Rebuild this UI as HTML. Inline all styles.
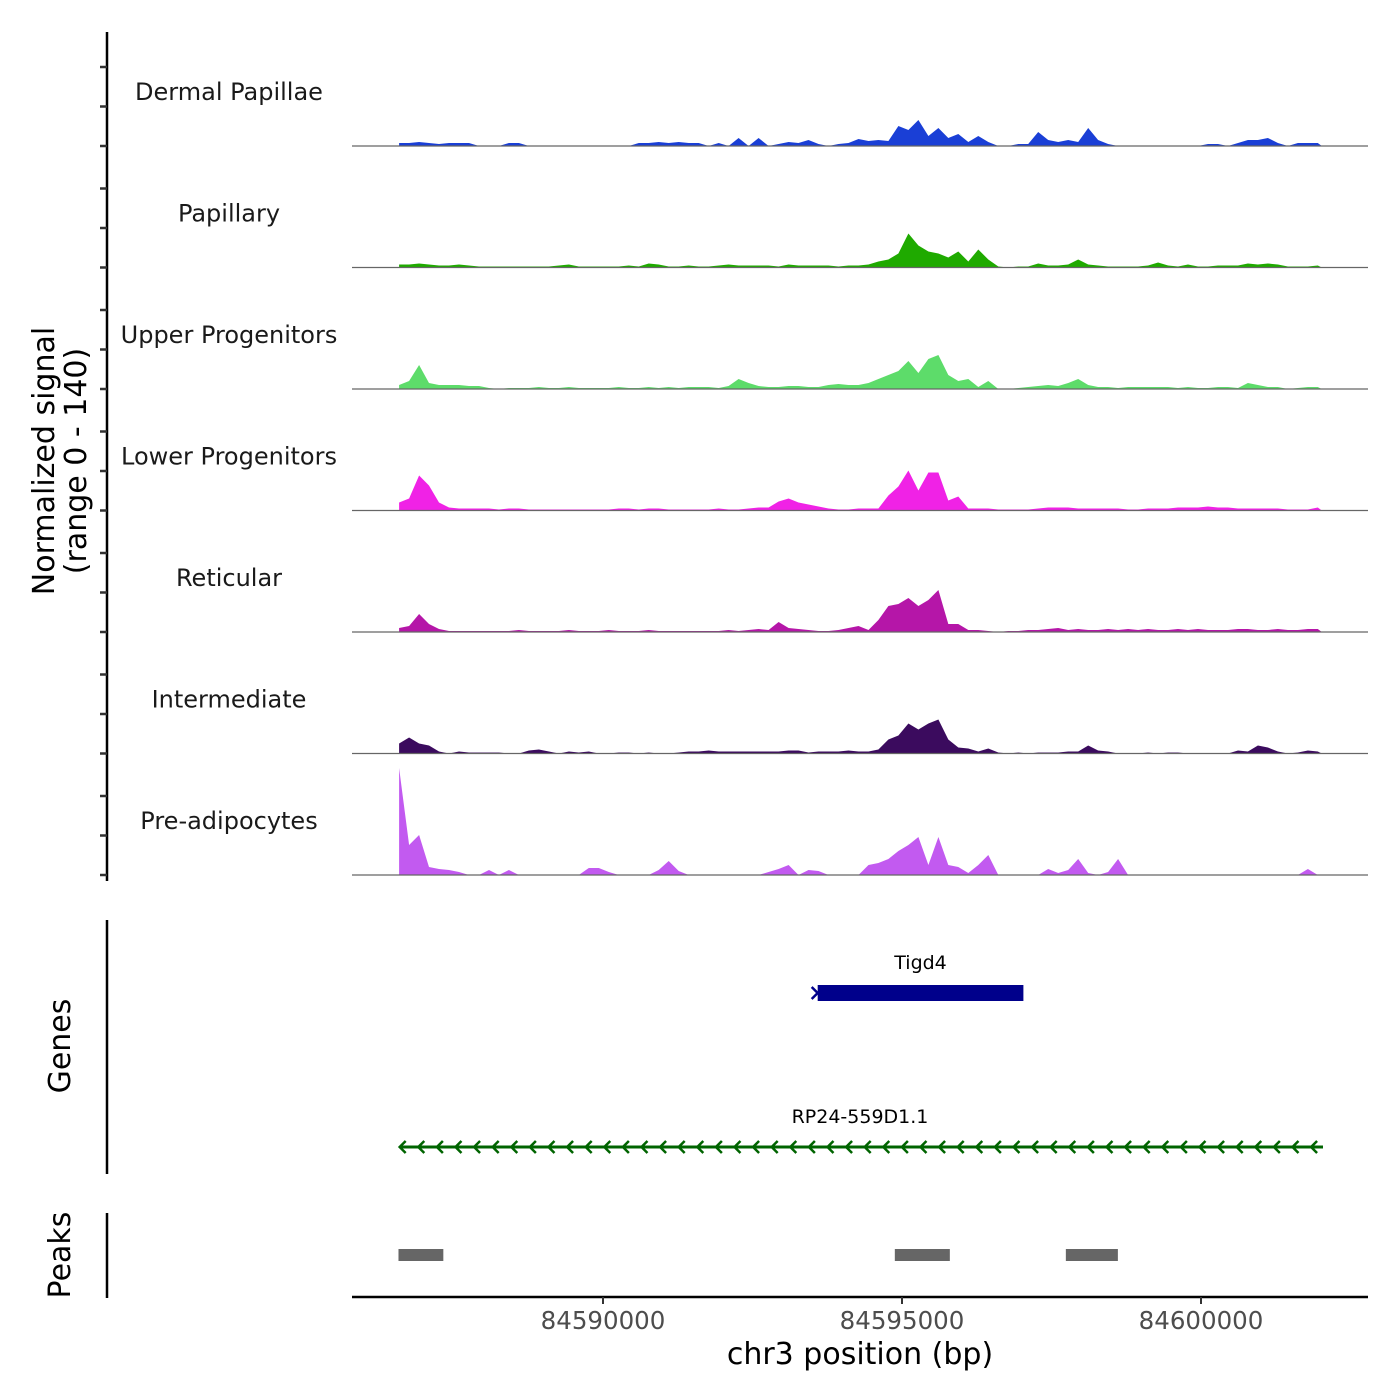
<!DOCTYPE html>
<html><head><meta charset="utf-8"><style>
body{margin:0;background:#fff}
svg{display:block;font-family:"DejaVu Sans","Liberation Sans",sans-serif}
</style></head><body>
<svg id="chart" width="1400" height="1400" viewBox="0 0 1400 1400">
<g id="tracks"></g>
<g id="axes">
 <line x1="107" y1="32" x2="107" y2="881" stroke="#000" stroke-width="2.5"/>
 <line x1="107" y1="920" x2="107" y2="1174" stroke="#000" stroke-width="2.5"/>
 <line x1="107" y1="1213" x2="107" y2="1298" stroke="#000" stroke-width="2.5"/>
 <line x1="352" y1="1297" x2="1368" y2="1297" stroke="#000" stroke-width="2.5"/>
 <text x="54" y="461" font-size="30" text-anchor="middle" transform="rotate(-90 54 461)">Normalized signal</text>
 <text x="86" y="461" font-size="30" text-anchor="middle" transform="rotate(-90 86 461)">(range 0 - 140)</text>
 <text x="70" y="1046" font-size="30" text-anchor="middle" transform="rotate(-90 70 1046)">Genes</text>
 <text x="70" y="1255" font-size="30" text-anchor="middle" transform="rotate(-90 70 1255)">Peaks</text>
 <text x="860" y="1364" font-size="30" text-anchor="middle">chr3 position (bp)</text>
</g>
<g id="genes"></g>
<g id="peaks"></g>
</svg>
<script>
const trackNames = ["Dermal Papillae","Papillary","Upper Progenitors","Lower Progenitors","Reticular","Intermediate","Pre-adipocytes"];
const trackColors = ["#1a3fd6","#1faa00","#5ddc6a","#f022e6","#b516a8","#3b0b5e","#c25af0"];
const binStart = 84586590;
const binSize = 167;
const dermalPapillae = [3,3,4,3,2,3,3,3,0,0, 0,3,3,0,0,0,0,0,0,0, 0,0,0,0,3,3,4,3,4,3, 3,0,3,0,8,0,8,0,2,4, 3,6,2,0,2,3,7,5,6,5, 20,16,26,10,18,8,12,4,10,4, 0,0,2,2,14,6,4,6,4,18, 6,2,0,0,0,0,0,0,0,0, 0,2,2,0,3,6,6,8,3,0, 3,3,3];
const papillary = [3,3,4,3,2,2,3,2,1,1, 1,1,1,1,1,1,2,3,1,1, 1,1,1,2,1,4,3,1,1,2, 1,1,2,3,2,2,2,2,1,3, 2,2,2,2,1,2,2,3,6,8, 14,34,22,16,14,10,16,6,18,8, 1,0,1,1,4,2,2,3,8,3, 2,1,1,1,1,2,5,2,1,3, 1,1,2,2,2,4,3,4,3,1, 1,1,2];
const upperProgenitors = [4,8,24,6,4,4,4,3,3,1, 0,1,1,1,2,1,1,2,1,1, 1,1,2,1,1,2,1,2,1,2, 2,2,1,3,10,6,3,2,2,3, 3,2,2,4,5,4,4,6,10,14, 18,28,16,30,34,14,8,10,2,8, 0,0,1,2,3,4,3,6,10,4, 2,2,1,2,2,2,2,2,1,2, 1,1,2,2,1,6,4,2,2,0, 1,2,2];
const lowerProgenitors = [8,12,35,25,8,3,2,2,2,2, 1,2,2,1,1,1,1,1,1,1, 1,1,2,2,1,2,2,1,1,1, 1,1,2,1,1,2,3,3,9,12, 8,6,4,2,1,1,2,2,2,15, 24,40,20,38,38,10,14,2,2,2, 1,1,1,1,2,3,3,3,2,2, 2,2,2,1,1,2,2,2,3,3, 3,4,3,3,2,2,2,2,2,1, 1,1,3];
const reticular = [4,6,18,8,3,1,1,1,1,1, 1,1,2,1,1,1,1,2,1,1, 1,2,1,1,1,2,1,1,1,1, 1,1,1,2,1,2,3,2,10,4, 3,2,1,1,2,4,6,2,12,26, 28,34,26,32,42,8,8,2,2,1, 0,1,1,2,2,3,4,2,3,2, 2,3,2,3,2,3,2,2,3,2, 3,2,2,2,3,3,2,2,3,2, 2,3,3];
const intermediate = [10,16,10,8,2,0,2,1,1,1, 1,0,0,3,4,2,0,2,1,2, 0,0,1,1,0,1,0,0,1,2, 2,3,2,2,2,2,2,2,2,3, 3,1,2,2,2,3,2,2,4,14, 18,30,24,30,34,14,6,5,2,5, 1,0,1,0,1,1,1,2,2,8, 3,2,0,0,0,1,0,1,1,0, 0,0,0,0,3,2,8,6,2,0, 1,3,2];
const preAdipocytes = [107,30,40,8,6,5,3,0,0,5, 0,5,0,0,0,0,0,0,0,7, 7,3,0,0,0,0,5,14,4,0, 0,0,0,0,0,0,0,3,6,10, 0,5,4,0,0,0,0,10,12,16, 24,30,38,10,38,10,8,2,10,20, 0,0,0,0,0,6,2,5,16,2, 0,3,16,0,0,0,0,0,0,0, 0,0,0,0,0,0,0,0,0,0, 0,6,0];
const trackValues = [dermalPapillae,papillary,upperProgenitors,lowerProgenitors,reticular,intermediate,preAdipocytes];
const xTicks = [84590000,84595000,84600000];
const peakStarts = [84586580,84594880,84597740];
const peakEnds = [84587330,84595800,84598610];
const geneNames = ["Tigd4","RP24-559D1.1"];
const geneStarts = [84593590,84586600];
const geneEnds = [84597030,84602040];

const NS='http://www.w3.org/2000/svg';
function el(tag,attrs,parent){const e=document.createElementNS(NS,tag);for(const k in attrs)e.setAttribute(k,attrs[k]);parent.appendChild(e);return e;}
function xs(bp){return 603+(bp-84590000)*0.0598;}
const panelH=121.5, base0=146, yPx=1.0;
const tracks=document.getElementById('tracks');
const axes=document.getElementById('axes');
trackValues.forEach((vals,t)=>{
  const base=base0+t*panelH;
  const g=el('g',{},tracks);
  
  
  let pts=[[xs(binStart),base]];
  vals.forEach((v,i)=>{pts.push([xs(binStart+i*binSize),base-v*yPx]);});
  pts.push([xs(binStart+(vals.length-1)*binSize)+4,base]);
  const a=el('polygon',{points:pts.map(p=>p[0].toFixed(1)+','+p[1].toFixed(1)).join(' '),fill:trackColors[t]},g);
  
  
  const l=el('line',{x1:352,x2:1368,y1:base,y2:base,stroke:'#666','stroke-width':1.2},g);
  
  
  const tx=el('text',{x:229,y:base-46,'font-size':24,'text-anchor':'middle',fill:'#1a1a1a'},g);
  tx.textContent=trackNames[t];
  
  
  [0,39.5,79].forEach(o=>{
    const tk=el('line',{x1:100,x2:107,y1:base-o,y2:base-o,stroke:'#333','stroke-width':2.5},axes);
    
    
  });
});
xTicks.forEach(v=>{
  const x=xs(v);
  const tk=el('line',{x1:x,x2:x,y1:1297,y2:1304,stroke:'#333','stroke-width':2},axes);
  
  
  const t=el('text',{x:x,y:1329,'font-size':24.5,'text-anchor':'middle',fill:'#4d4d4d'},axes);
  t.textContent=v;
  
  
});
const genes=document.getElementById('genes');
{
  const x1=xs(geneStarts[0]),x2=xs(geneEnds[0]);
  const r=el('rect',{x:x1,y:985,width:x2-x1,height:16,fill:'#00008b'},genes);
  
  
  const c=el('path',{d:`M${x1-6} 987 L${x1} 993 L${x1-6} 999`,stroke:'#00008b','stroke-width':2.5,fill:'none'},genes);
  
  
  const t=el('text',{x:(x1+x2)/2,y:969,'font-size':19,'text-anchor':'middle'},genes);
  t.textContent=geneNames[0];
  
  
}
{
  const x1=xs(geneStarts[1]),x2=xs(geneEnds[1]);
  const l=el('line',{x1:x1,x2:x2,y1:1147,y2:1147,stroke:'#006400','stroke-width':3},genes);
  
  
  let d='';
  for(let x=x1;x<x2-4;x+=18.6){d+=`M${x+6} 1141 L${x} 1147 L${x+6} 1153 `;}
  const c=el('path',{d:d,stroke:'#006400','stroke-width':2.5,fill:'none'},genes);
  
  
  const t=el('text',{x:860,y:1123,'font-size':19,'text-anchor':'middle'},genes);
  t.textContent=geneNames[1];
  
  
}
const peaks=document.getElementById('peaks');
peakStarts.forEach((s,i)=>{
  const r=el('rect',{x:xs(s),y:1249,width:xs(peakEnds[i])-xs(s),height:12,fill:'#666'},peaks);
  
  
});
</script>
</body></html>
